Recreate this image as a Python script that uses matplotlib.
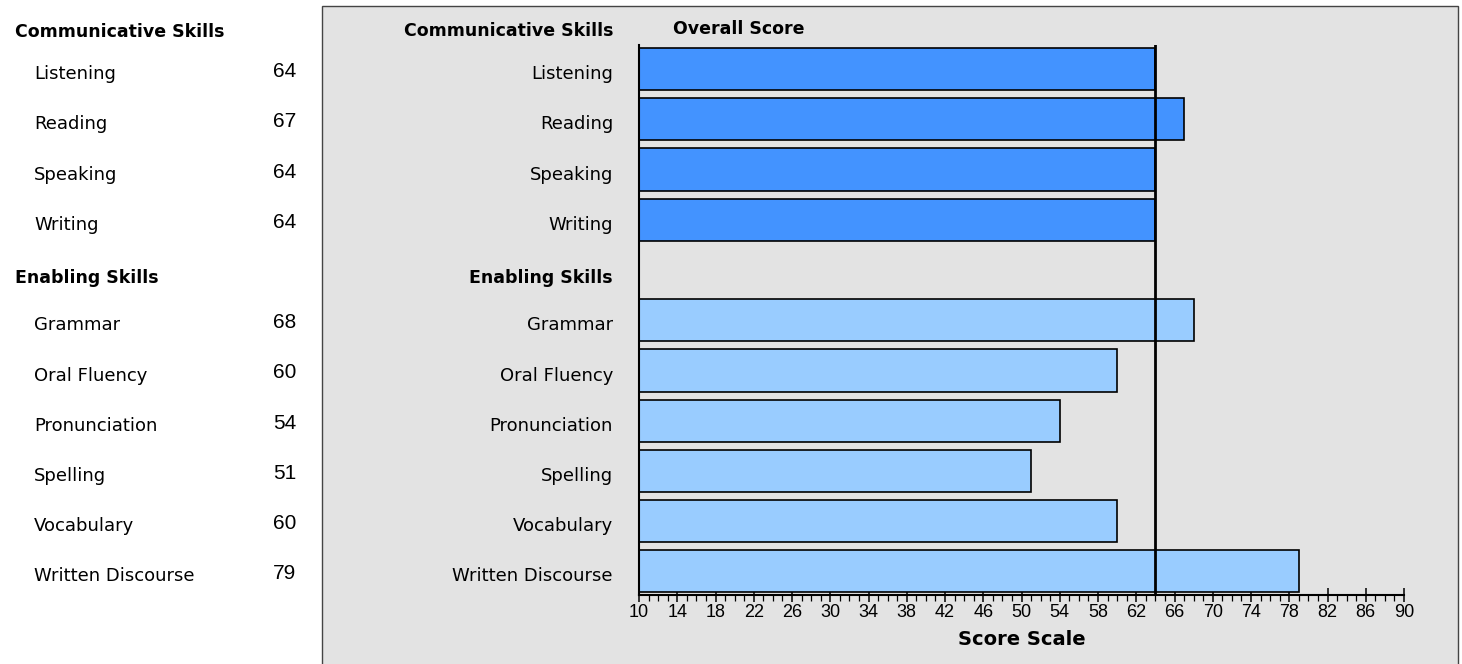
import numpy as np
import matplotlib
matplotlib.use("Agg")
import matplotlib.pyplot as plt
from matplotlib.patches import Rectangle
from matplotlib.transforms import blended_transform_factory

# ---------------------------------------------------------------
# Data
# ---------------------------------------------------------------
comm_labels = ["Listening", "Reading", "Speaking", "Writing"]
comm_scores = [64, 67, 64, 64]
enab_labels = ["Grammar", "Oral Fluency", "Pronunciation", "Spelling",
               "Vocabulary", "Written Discourse"]
enab_scores = [68, 60, 54, 51, 60, 79]
overall_score = 64
scale_min, scale_max = 10, 90
major_ticks = np.arange(10, 91, 4)
minor_ticks = np.arange(10, 91, 1)

COMM_COLOR = "#4393ff"
ENAB_COLOR = "#99ccff"
PANEL_COLOR = "#e3e3e3"

# row positions: header at 0, comm 1..4, enabling header 5, enabling 6..11
comm_rows = np.arange(1, 5)
enab_rows = np.arange(6, 12)

W, H = 1462, 664
fig = plt.figure(figsize=(W / 100, H / 100), dpi=100)

def fx(px):
    return px / W

def fy(py):
    return 1 - py / H

# grey panel (behind the axes)
fig.patches.append(Rectangle((fx(322), fy(700)), fx(1458) - fx(322), fy(6) - fy(700),
                             transform=fig.transFigure, facecolor=PANEL_COLOR,
                             edgecolor="#444444", lw=1.0, zorder=-5))

ax_l, ax_r, ax_t, ax_b = 639, 1404, 45, 595
ax = fig.add_axes([fx(ax_l), fy(ax_b), fx(ax_r) - fx(ax_l), fy(ax_t) - fy(ax_b)])
ax.set_facecolor("none")

bar_h = 0.84
ax.barh(comm_rows, np.array(comm_scores) - scale_min, left=scale_min, height=bar_h,
        color=COMM_COLOR, edgecolor="black", lw=1.2, zorder=2)
ax.barh(enab_rows, np.array(enab_scores) - scale_min, left=scale_min, height=bar_h,
        color=ENAB_COLOR, edgecolor="black", lw=1.2, zorder=2)
ax.axvline(overall_score, color="black", lw=2.0, zorder=3)

ax.set_xlim(scale_min, scale_max)
ax.set_ylim(11.47, 0.52)
ax.set_xticks(major_ticks, [str(t) for t in major_ticks],
              fontfamily="Liberation Sans", fontsize=13)
ax.set_xticks(minor_ticks, minor=True)
ax.tick_params(axis="x", which="major", direction="inout", length=9.5, width=1.1, pad=2)
ax.tick_params(axis="x", which="minor", direction="out", length=4.3, width=0.9)
ax.set_yticks([])
for s in ["top", "right"]:
    ax.spines[s].set_visible(False)
ax.spines["left"].set_linewidth(1.5)
ax.spines["bottom"].set_linewidth(1.5)
ax.set_xlabel("Score Scale", fontsize=14, fontweight="bold", labelpad=6)

# labels inside the grey panel, right aligned next to the axis
tr = blended_transform_factory(fig.transFigure, ax.transData)
lab_x = fx(613)
ax.text(lab_x, 0.25, "Communicative Skills", transform=tr, ha="right", va="center",
        fontsize=12.5, fontweight="bold", clip_on=False)
ax.text(lab_x, 5.15, "Enabling Skills", transform=tr, ha="right", va="center",
        fontsize=12.5, fontweight="bold", clip_on=False)
for r, lab in zip(comm_rows, comm_labels):
    ax.text(lab_x, r + 0.1, lab, transform=tr, ha="right", va="center", fontsize=13, clip_on=False)
for r, lab in zip(enab_rows, enab_labels):
    ax.text(lab_x, r + 0.1, lab, transform=tr, ha="right", va="center", fontsize=13, clip_on=False)
fig.text(fx(673), fy(29), "Overall Score", ha="left", va="center",
         fontsize=12.5, fontweight="bold")

# left summary table
fig.text(fx(15), fy(32), "Communicative Skills", ha="left", va="center",
         fontsize=12.5, fontweight="bold")
fig.text(fx(15), fy(278), "Enabling Skills", ha="left", va="center",
         fontsize=12.5, fontweight="bold")
for r, lab, val in zip(comm_rows, comm_labels, comm_scores):
    ax.text(fx(34), r + 0.1, lab, transform=tr, ha="left", va="center", fontsize=13, clip_on=False)
    ax.text(fx(296), r + 0.05, str(val), transform=tr, ha="right", va="center", fontsize=15,
            family="Liberation Sans", clip_on=False)
for r, lab, val in zip(enab_rows, enab_labels, enab_scores):
    ax.text(fx(34), r + 0.1, lab, transform=tr, ha="left", va="center", fontsize=13, clip_on=False)
    ax.text(fx(296), r + 0.05, str(val), transform=tr, ha="right", va="center", fontsize=15,
            family="Liberation Sans", clip_on=False)

fig.savefig("out.png", dpi=100, facecolor="white")
